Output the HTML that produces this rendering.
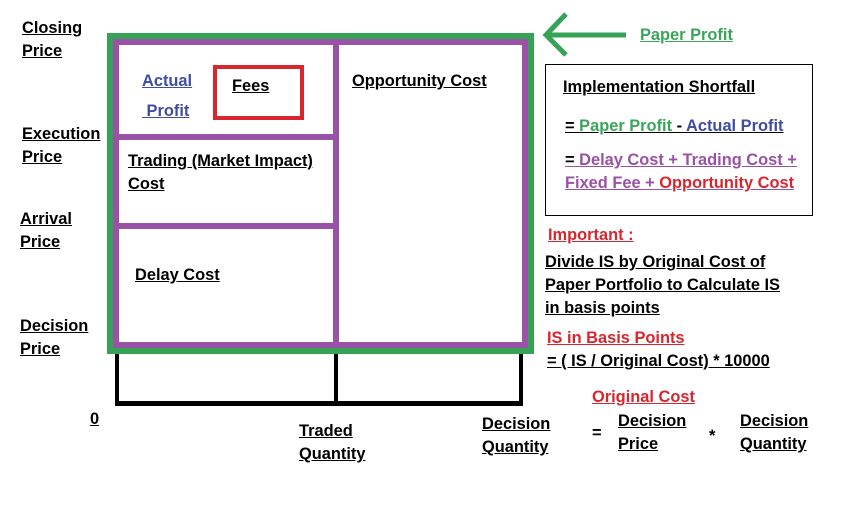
<!DOCTYPE html>
<html><head><style>
body{margin:0;width:857px;height:518px;background:#fff;position:relative;overflow:hidden;font-family:"Liberation Sans",sans-serif;font-weight:bold;font-size:16.4px;}
.t{position:absolute;text-decoration:underline;white-space:nowrap;line-height:23px;color:#000;}
.b{position:absolute;box-sizing:border-box;}
.g{color:#3aa65a}.bl{color:#3f4ea0}.p{color:#9a52a6}.r{color:#d8262f}
</style></head><body>
<div class="b" style="left:107px;top:33px;width:427px;height:321px;border:6px solid #36a256"></div>
<div class="b" style="left:113px;top:39px;width:415px;height:309px;border:6px solid #9a52a6"></div>
<div class="b" style="left:333px;top:39px;width:6px;height:309px;background:#9a52a6"></div>
<div class="b" style="left:113px;top:134px;width:223px;height:6px;background:#9a52a6"></div>
<div class="b" style="left:113px;top:223px;width:223px;height:6px;background:#9a52a6"></div>
<div class="b" style="left:213px;top:65px;width:91px;height:55px;border:4px solid #d8262f"></div>
<div class="b" style="left:115px;top:354px;width:4px;height:51px;background:#000"></div>
<div class="b" style="left:334px;top:354px;width:4px;height:51px;background:#000"></div>
<div class="b" style="left:519px;top:354px;width:4px;height:51px;background:#000"></div>
<div class="b" style="left:115px;top:401px;width:408px;height:5px;background:#000"></div>
<svg style="position:absolute;left:0;top:0" width="857" height="518"><path d="M546 35 L626 35 M566 14 L546 35 L566 55" stroke="#36a256" stroke-width="5" fill="none"/></svg>
<div class="b" style="left:545px;top:64px;width:268px;height:152px;border:1px solid #000"></div>

<div class="t" style="left:22px;top:17px">Closing<br>Price</div>
<div class="t" style="left:22px;top:123px">Execution<br>Price</div>
<div class="t" style="left:20px;top:208px">Arrival<br>Price</div>
<div class="t" style="left:20px;top:315px">Decision<br>Price</div>
<div class="t bl" style="left:142px;top:66px;line-height:30px">Actual<br>&nbsp;Profit</div>
<div class="t" style="left:232px;top:75px">Fees</div>
<div class="t" style="left:352px;top:70px">Opportunity Cost</div>
<div class="t" style="left:128px;top:150px">Trading (Market Impact)<br>Cost</div>
<div class="t" style="left:135px;top:264px">Delay Cost</div>
<div class="t" style="left:90px;top:408px">0</div>
<div class="t" style="left:299px;top:420px">Traded<br>Quantity</div>
<div class="t" style="left:482px;top:413px">Decision<br>Quantity</div>
<div class="t g" style="left:640px;top:24px">Paper Profit</div>
<div class="t" style="left:563px;top:76px">Implementation Shortfall</div>
<div class="t" style="left:565px;top:115px">= <span class="g">Paper Profit </span>- <span class="bl">Actual Profit</span></div>
<div class="t p" style="left:565px;top:149px"><span style="color:#000">= </span>Delay Cost + Trading Cost +<br>Fixed Fee + <span class="r">Opportunity Cost</span></div>
<div class="t r" style="left:548px;top:224px">Important :</div>
<div class="t" style="left:545px;top:251px">Divide IS by Original Cost of<br>Paper Portfolio to Calculate IS<br>in basis points</div>
<div class="t r" style="left:547px;top:327px">IS in Basis Points</div>
<div class="t" style="left:547px;top:350px">= ( IS / Original Cost) * 10000</div>
<div class="t r" style="left:592px;top:386px">Original Cost</div>
<div class="t" style="left:592px;top:422px;text-decoration:none">=</div>
<div class="t" style="left:618px;top:410px">Decision<br>Price</div>
<div class="t" style="left:709px;top:425px;text-decoration:none">*</div>
<div class="t" style="left:740px;top:410px">Decision<br>Quantity</div>
</body></html>
